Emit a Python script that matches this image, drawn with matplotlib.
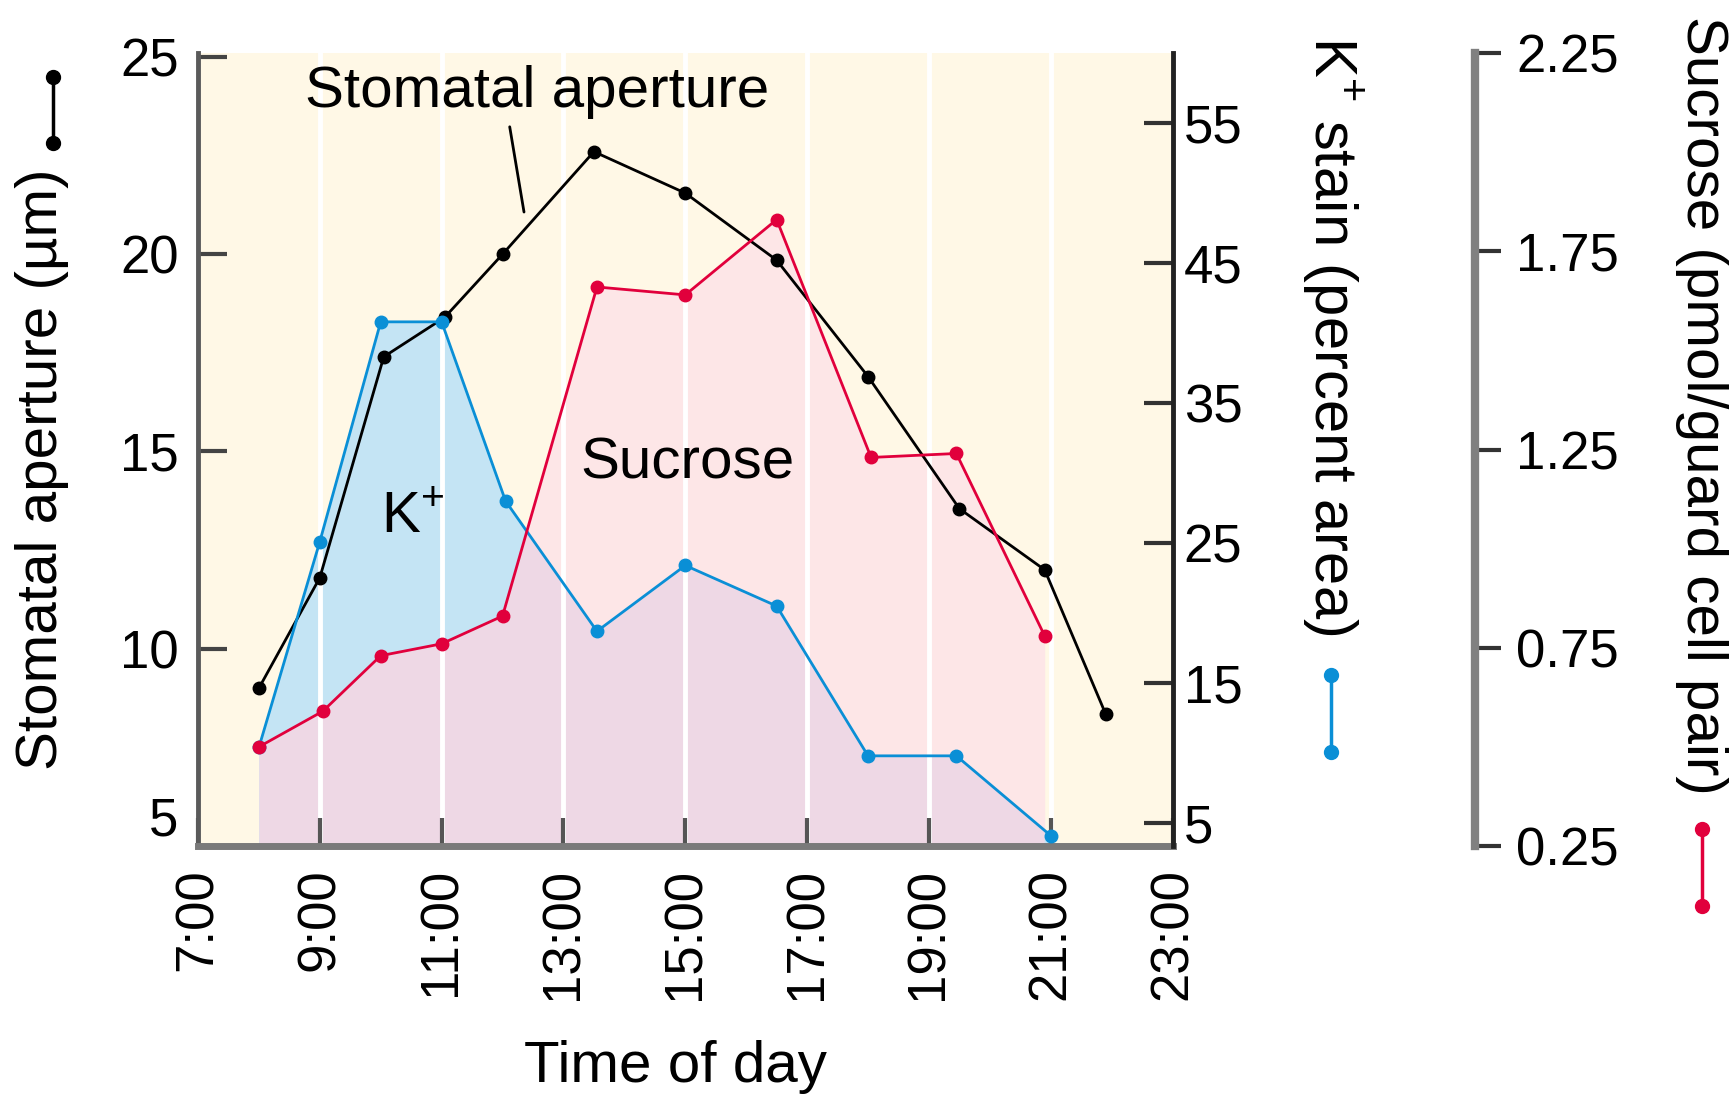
import numpy as np
import matplotlib
matplotlib.use("Agg")
import matplotlib.pyplot as plt

plt.rcParams['font.family'] = ['Liberation Sans', 'DejaVu Sans']
plt.rcParams['mathtext.fontset'] = 'custom'
plt.rcParams['mathtext.rm'] = 'Liberation Sans'

# stomatal aperture (um), left axis
t_ap = [8.0, 9.0, 10.05, 11.05, 12.0, 13.5, 15.0, 16.5, 18.0, 19.5, 20.9, 21.9]
aperture = [9.0, 11.8, 17.4, 18.4, 20.0, 22.6, 21.55, 19.85, 16.9, 13.55, 12.0, 8.35]

# K+ stain (percent area), first right axis
t_k = [8.0, 9.0, 10.0, 11.0, 12.05, 13.55, 15.0, 16.5, 18.0, 19.45, 21.0]
k_stain = [10.4, 25.1, 40.8, 40.8, 28.0, 18.7, 23.4, 20.5, 9.8, 9.8, 4.1]

# sucrose (pmol/guard cell pair), second right axis
t_s = [8.0, 9.05, 10.0, 11.0, 12.0, 13.55, 15.0, 16.5, 18.05, 19.45, 20.9]
sucrose = [0.50, 0.59, 0.73, 0.76, 0.83, 1.66, 1.64, 1.83, 1.23, 1.24, 0.78]

x_ticks = [7, 9, 11, 13, 15, 17, 19, 21, 23]
x_labels = ['7:00', '9:00', '11:00', '13:00', '15:00', '17:00', '19:00', '21:00', '23:00']
ap_ticks = [5, 10, 15, 20, 25]
k_ticks = [5, 15, 25, 35, 45, 55]
s_ticks = [0.25, 0.75, 1.25, 1.75, 2.25]
s_labels = ['0.25', '0.75', '1.25', '1.75', '2.25']

ap_lim = (5, 25.1)
k_lim = (3.36, 60)
s_lim = (0.25, 2.25)

cream = '#fff8e6'
blue_fill = '#c4e4f4'
pink_fill = '#fde6e7'
purple_fill = '#eed8e5'
blue = '#0a8fd6'
red = '#e1003c'

TICK = 38
LAB = 42

fig = plt.figure(figsize=(17.29, 10.96), dpi=100)
ax = fig.add_axes([0.1145, 0.2281, 0.5637, 0.7235])
ax2 = ax.twinx()
ax3 = ax.twinx()

ax.set_xlim(7, 23)
ax.set_ylim(*ap_lim)
ax2.set_ylim(*k_lim)
ax3.set_ylim(*s_lim)

ax.set_facecolor(cream)

# fills, all drawn in the main axes so grid lines can sit on top
pink = ax.fill_between(t_s, sucrose, s_lim[0], color=pink_fill, lw=0,
                       transform=ax3.transData, zorder=1)
ax.fill_between(t_k, k_stain, k_lim[0], color=blue_fill, lw=0,
                transform=ax2.transData, zorder=1.1)
purple = ax.fill_between(t_k, k_stain, k_lim[0], color=purple_fill, lw=0,
                         transform=ax2.transData, zorder=1.2)
purple.set_clip_path(pink.get_paths()[0], pink.get_transform())

ax.plot(t_ap, aperture, '-o', color='black', lw=2, ms=9, zorder=3)
ax.plot(t_k, k_stain, '-o', color=blue, lw=2, ms=9, zorder=3,
        transform=ax2.transData)
ax.plot(t_s, sucrose, '-o', color=red, lw=2, ms=9, zorder=3,
        transform=ax3.transData)

ax.set_xlim(7, 23)
ax.set_ylim(*ap_lim)

# grid
ax.set_axisbelow('line')
ax.grid(axis='x', color='white', lw=3.5)
ax.set_xticks(x_ticks, labels=x_labels, rotation=90)
ax.set_yticks(ap_ticks, labels=[str(v) for v in ap_ticks])
ax.tick_params(axis='x', direction='in', length=20, width=3, color='#555555',
               labelsize=TICK, pad=16)
ax.tick_params(axis='y', direction='in', length=21, width=3, color='#444444',
               labelsize=TICK, pad=14)
ax.get_yticklabels()[0].set_va('bottom')

for s in ['top', 'right']:
    ax.spines[s].set_visible(False)
ax.spines['left'].set_color('#5a5a5a')
ax.spines['left'].set_linewidth(3.5)
ax.spines['bottom'].set_color('#7a7a7a')
ax.spines['bottom'].set_linewidth(5)

# K+ axis
for s in ['top', 'left', 'bottom']:
    ax2.spines[s].set_visible(False)
ax2.spines['right'].set_linewidth(3.5)
ax2.spines['right'].set_color('#222222')
ax2.set_yticks(k_ticks, labels=[str(v) for v in k_ticks])
ax2.tick_params(axis='y', direction='in', length=21, width=3, color='#333333',
                labelsize=TICK, pad=8)

# sucrose axis
for s in ['top', 'left', 'bottom']:
    ax3.spines[s].set_visible(False)
ax3.spines['right'].set_position(('axes', 1.31))
ax3.spines['right'].set_color('#808080')
ax3.spines['right'].set_linewidth(6)
ax3.set_yticks(s_ticks, labels=s_labels)
ax3.tick_params(axis='y', direction='out', length=19, width=3, color='#333333',
                labelsize=TICK, pad=11)

# axis labels
ax.text(-0.160, 0.475, 'Stomatal aperture (µm)', rotation=90, fontsize=LAB,
        ha='center', va='center', transform=ax.transAxes)
ax.text(1.163, 0.644, r'K$^\mathregular{+}$ stain (percent area)', rotation=270,
        fontsize=LAB + 1, ha='center', va='center', transform=ax.transAxes)
ax.text(1.543, 0.556, 'Sucrose (pmol/guard cell pair)', rotation=270,
        fontsize=LAB, ha='center', va='center', transform=ax.transAxes)
ax.text(0.49, -0.279, 'Time of day', fontsize=LAB, ha='center', va='center',
        transform=ax.transAxes)

# little legend keys next to the labels
ax.plot([-0.149, -0.149], [0.970, 0.887], '-o', color='black', lw=2.5, ms=10,
        transform=ax.transAxes, clip_on=False)
ax.plot([1.163, 1.163], [0.2157, 0.1185], '-o', color=blue, lw=2.5, ms=10,
        transform=ax.transAxes, clip_on=False)
ax.plot([1.543, 1.543], [0.0214, -0.0757], '-o', color=red, lw=2.5, ms=10,
        transform=ax.transAxes, clip_on=False)

# in-plot annotations
ax.text(12.56, 24.12, 'Stomatal aperture', fontsize=LAB, ha='center',
        va='center', zorder=4)
ax.annotate('', xy=(12.36, 21.0), xytext=(12.11, 23.3),
            arrowprops=dict(arrowstyle='-', color='black', lw=2), zorder=4)
ax.text(10.53, 13.3, r'K$^\mathregular{+}$', fontsize=LAB, ha='center',
        va='center', zorder=4)
ax.text(15.03, 14.7, 'Sucrose', fontsize=LAB, ha='center', va='center',
        zorder=4)

fig.savefig('out.png', dpi=100)
